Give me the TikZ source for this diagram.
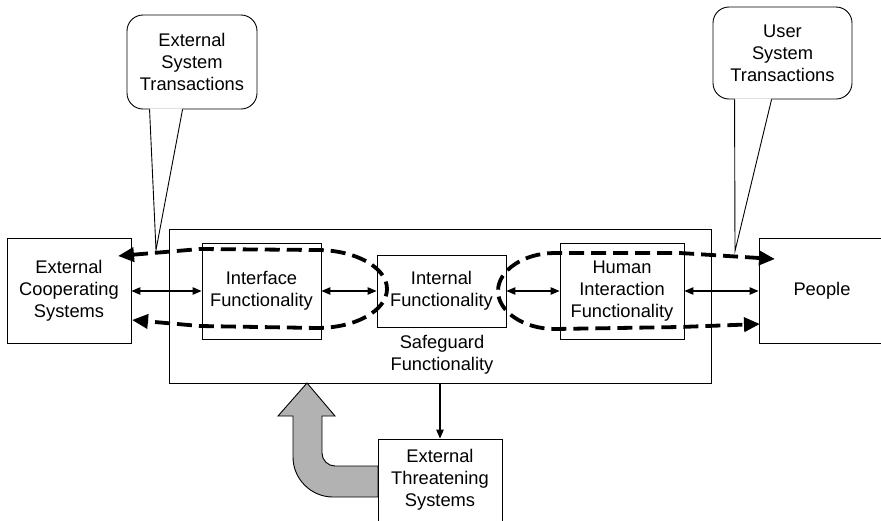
\documentclass[tikz,border=0pt]{standalone}
\usepackage{fontspec}
\setmainfont{Liberation Sans}
\usetikzlibrary{arrows.meta,calc}
\newcommand{\lbl}{\fontsize{18.3}{22}\selectfont}
\tikzset{
  box/.style={draw,line width=0.9pt,inner sep=0pt,align=center,font=\lbl},
  callbox/.style={box,fill=white,rounded corners=16pt},
  link/.style={line width=1.1pt,{Triangle[length=9pt,width=7.5pt]}-{Triangle[length=9pt,width=7.5pt]}},
  txpath/.style={line width=3.8pt,dash pattern=on 15pt off 7pt,
    {Triangle[length=16pt,width=14pt]}-{Triangle[length=16pt,width=14pt]}},
  threatarrow/.style={draw,line width=0.9pt,fill=gray!60,line join=miter}
}

\begin{document}
\begin{tikzpicture}[x=1pt,y=-1pt]
  \useasboundingbox (0,0) rectangle (881,520);

  % main system
  \node[box,minimum width=542pt,minimum height=154pt] (safe) at (440,306) {};
  \node[font=\lbl,align=center] (safelbl) at (442,355) {Safeguard\\Functionality};
  \node[box,minimum width=119pt,minimum height=96pt] (iface) at (261.5,291) {Interface\\Functionality};
  \node[box,minimum width=129pt,minimum height=72pt] (intern) at (441.5,291) {Internal\\Functionality};
  \node[box,minimum width=124pt,minimum height=96pt] (human) at (622,291) {Human\\Interaction\\Functionality};

  % outside parties
  \node[box,minimum width=124pt,minimum height=105pt] (ecs) at (69,291) {External\\Cooperating\\Systems};
  \node[box,minimum width=126pt,minimum height=105pt] (people) at (822,291) {People};

  % threats
  \path[threatarrow] (378,466) -- (335,466)
    .. controls (327.8,466) and (322,460.2) .. (322,453) -- (322,416) -- (335,416)
    -- (307,383) -- (278,416) -- (293,416) -- (293,457)
    .. controls (293,479) and (311,497) .. (333,497) -- (378,497) -- cycle;
  \node[box,minimum width=124pt,minimum height=82pt] (threat) at (440,480) {External\\Threatening\\Systems};
  \draw[line width=1.1pt,-{Triangle[length=9pt,width=7.5pt]}] (safe.south) -- (threat.north);

  \draw[link] (ecs.east) -- (iface.west);
  \draw[link] (iface.east) -- (intern.west);
  \draw[link] (intern.east) -- (human.west);
  \draw[link] (human.east) -- (people.west);

  % transaction loops
  \coordinate (ecsTop) at (118,256);
  \coordinate (ecsBot) at (132,320);
  \coordinate (pplTop) at (775,259);
  \coordinate (pplBot) at (760,324);
  \draw[txpath] (ecsTop) -- (200,249) -- (317,250)
    .. controls (355.6,250) and (387,267.5) .. (387,289)
    .. controls (387,310.5) and (355.6,328) .. (317,328) -- (200,326) -- (ecsBot);
  \draw[txpath] (pplTop) -- (680,253) -- (555,253)
    .. controls (523.5,253) and (498,270.5) .. (498,291)
    .. controls (498,311.5) and (523.5,329) .. (555,329) -- (680,327) -- (pplBot);

  % callouts
  \node[callbox,minimum width=130pt,minimum height=94pt] (callL) at (192,62) {External\\System\\Transactions};
  \node[callbox,minimum width=139pt,minimum height=92pt] (callR) at (782.5,53) {User\\System\\Transactions};
  \coordinate (tipL) at (156,250);
  \coordinate (tipR) at (735,251);
  \fill[white] ($(callL.south west)+(23.6,-1.2)$) -- (tipL) -- ($(callL.south west)+(55.4,-1.2)$) -- cycle;
  \draw[line width=0.9pt] ($(callL.south west)+(23,0)$) -- (tipL) -- ($(callL.south west)+(56,0)$);
  \fill[white] ($(callR.south west)+(22.6,-1.2)$) -- (tipR) -- ($(callR.south west)+(58.4,-1.2)$) -- cycle;
  \draw[line width=0.9pt] ($(callR.south west)+(22,0)$) -- (tipR) -- ($(callR.south west)+(59,0)$);
\end{tikzpicture}
\end{document}
